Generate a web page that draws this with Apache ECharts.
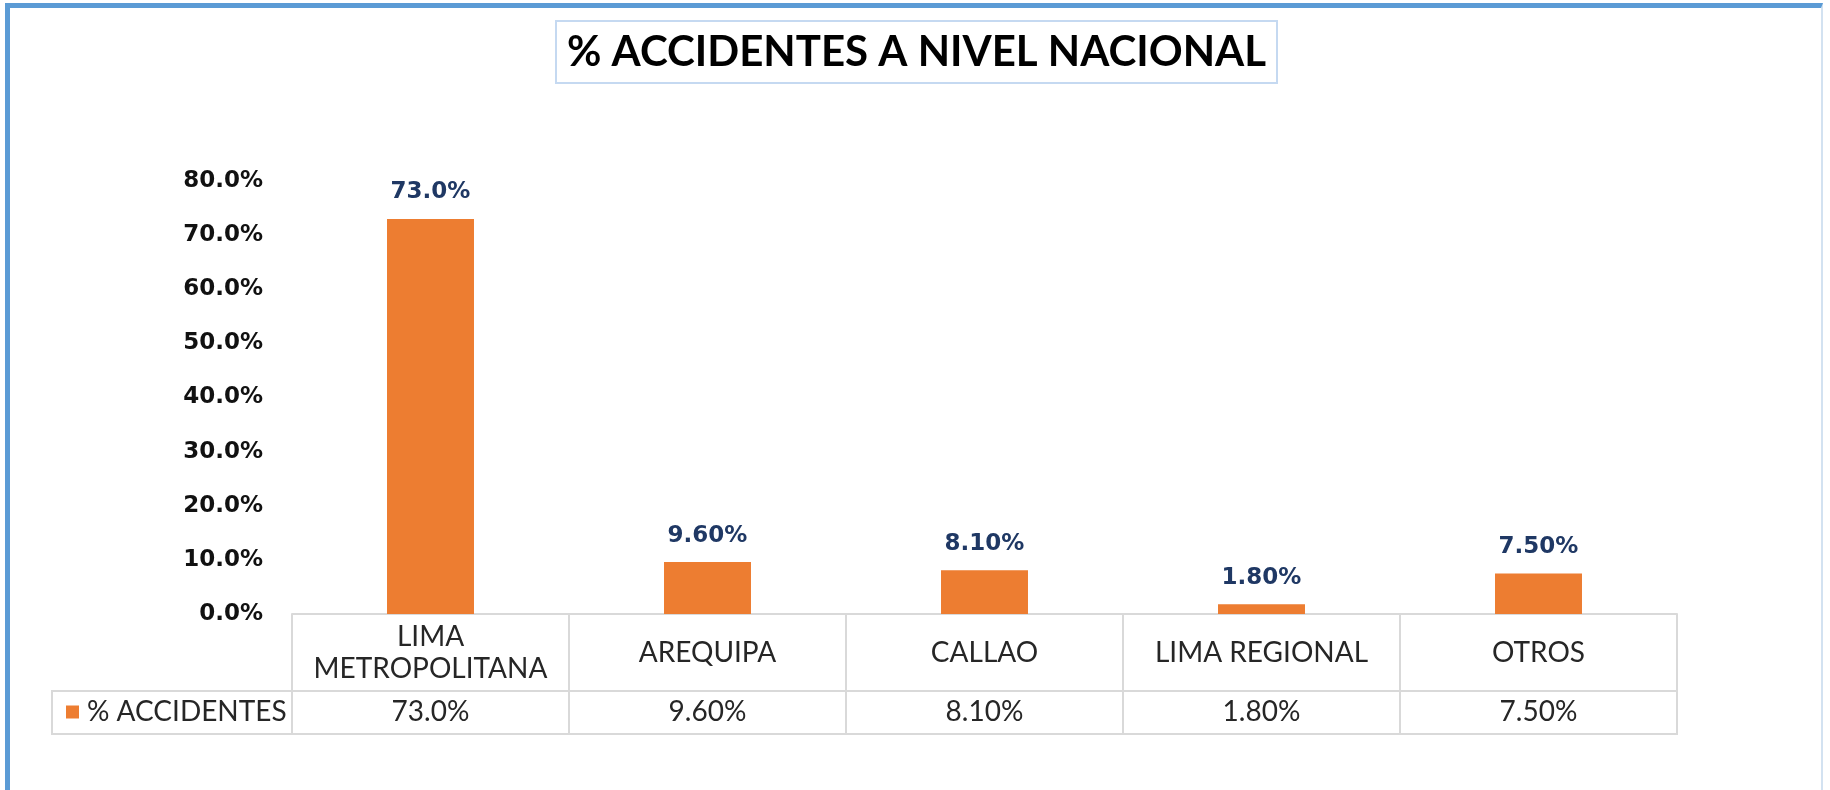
<!DOCTYPE html>
<html>
<head>
<meta charset="utf-8">
<script src="https://cdn.jsdelivr.net/npm/echarts@6/dist/echarts.min.js"></script>
<style>
  html, body { margin: 0; padding: 0; background: #ffffff; }
  #frame {
    position: absolute; left: 5px; top: 3px; width: 1818px; height: 830px;
    box-sizing: border-box;
    border-top: 5px solid #5B9BD5;
    border-left: 5px solid #5B9BD5;
    border-right: 2px solid #D3E2F1;
  }
  #chart { position: absolute; left: 0; top: 0; width: 1830px; height: 790px; }
</style>
</head>
<body>
<div id="frame"></div>
<div id="chart"></div>
<script>
// Chart data
const chartTitle = '% ACCIDENTES A NIVEL NACIONAL';
const seriesName = '% ACCIDENTES';
const categories = ['LIMA\nMETROPOLITANA', 'AREQUIPA', 'CALLAO', 'LIMA REGIONAL', 'OTROS'];
const accidentPct = [73.0, 9.6, 8.1, 1.8, 7.5];
// decimals shown for each value in labels and in the data table
const pctDecimals = [1, 2, 2, 2, 2];
// value axis range and step (percent)
const yMin = 0;
const yMax = 80;
const yStep = 10;

function fmtPct(i) {
  return accidentPct[i].toFixed(pctDecimals[i]) + '%';
}

const TABLE_LINE = '#D9D9D9';
const TEXT_DARK = '#262626';

const chart = echarts.init(document.getElementById('chart'), null, { renderer: 'canvas' });

chart.setOption({
  animation: false,
  backgroundColor: 'transparent',
  title: {
    text: chartTitle,
    left: 556,
    top: 21,
    padding: [10, 11],
    borderColor: '#C5D9F1',
    borderWidth: 2,
    textStyle: { fontFamily: 'Lato', fontWeight: 'bold', fontSize: 42, color: '#000000' }
  },
  legend: {
    data: [seriesName],
    left: 66,
    top: 697,
    padding: 0,
    icon: 'rect',
    itemWidth: 13,
    itemHeight: 13,
    itemGap: 0,
    textStyle: { fontFamily: 'Lato', fontSize: 28, color: TEXT_DARK, lineHeight: 30, padding: [0, 0, 0, 3] }
  },
  grid: [
    // plot area
    { left: 292, right: 153, top: 181, bottom: 176 },
    // data-table value row box (includes legend cell)
    { left: 52, right: 153, top: 691, height: 43, show: true, borderColor: TABLE_LINE, borderWidth: 2, backgroundColor: 'transparent' },
    // value row labels
    { left: 292, right: 153, top: 691, height: 43 }
  ],
  xAxis: [
    {
      type: 'category',
      gridIndex: 0,
      data: categories,
      axisLine: { show: true, lineStyle: { color: TABLE_LINE, width: 2 } },
      axisTick: { show: true, interval: 0, length: 119, lineStyle: { color: TABLE_LINE, width: 2 } },
      axisLabel: {
        interval: 0, margin: 39, verticalAlign: 'middle', lineHeight: 32,
        fontFamily: 'Lato', fontSize: 28, color: TEXT_DARK
      },
      splitLine: { show: false }
    },
    { type: 'value', gridIndex: 1, show: false },
    {
      type: 'category',
      gridIndex: 2,
      position: 'top',
      data: categories,
      axisLine: { show: false },
      axisTick: { show: false },
      axisLabel: {
        inside: true, interval: 0, margin: 21, verticalAlign: 'middle',
        fontFamily: 'Lato', fontSize: 28, color: TEXT_DARK,
        formatter: (v, idx) => fmtPct(idx)
      },
      splitLine: { show: false }
    }
  ],
  yAxis: [
    {
      type: 'value',
      gridIndex: 0,
      min: yMin, max: yMax, interval: yStep,
      axisLine: { show: false },
      axisTick: { show: false },
      splitLine: { show: false },
      axisLabel: {
        margin: 29,
        fontFamily: 'DejaVu Sans', fontWeight: 'bold', fontSize: 23, color: '#111111',
        formatter: v => v.toFixed(1) + '%'
      }
    },
    { type: 'value', gridIndex: 1, show: false },
    { type: 'value', gridIndex: 2, show: false }
  ],
  series: [
    {
      name: seriesName,
      type: 'bar',
      xAxisIndex: 0,
      yAxisIndex: 0,
      data: accidentPct,
      barWidth: '31.4%',
      itemStyle: { color: '#ED7D31' },
      label: {
        show: true,
        position: 'top',
        distance: 15,
        fontFamily: 'DejaVu Sans', fontWeight: 'bold', fontSize: 23, color: '#1F3864',
        formatter: p => fmtPct(p.dataIndex)
      }
    }
  ]
});
</script>
</body>
</html>
